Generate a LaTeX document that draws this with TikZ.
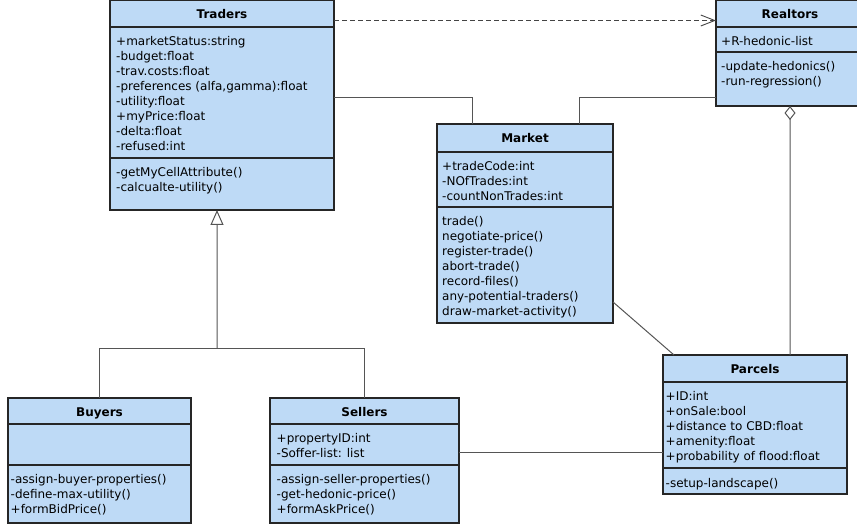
\documentclass[tikz,border=0pt]{standalone}
\usepackage{fontspec}
\setmainfont{DejaVu Sans}
\usetikzlibrary{arrows.meta}
\definecolor{umlblue}{RGB}{190,218,246}
\definecolor{conncol}{RGB}{85,85,85}
\begin{document}
\begin{tikzpicture}[x=1bp,y=-1bp,
  comp/.style={draw=black!85, line width=1.1bp, fill=umlblue, anchor=north west, inner sep=0pt, outer sep=0pt},
  ttl/.style={anchor=base, inner sep=0pt, font=\fontsize{12bp}{15bp}\selectfont\bfseries},
  txt/.style={anchor=north west, align=left, inner sep=0pt, font=\fontsize{12bp}{15bp}\selectfont},
  conn/.style={draw=conncol, line width=1bp},
  dep/.style={draw=conncol!80!black, line width=0.9bp, dash pattern=on 5bp off 3bp, -{Straight Barb[length=14bp,width=11bp]}},
  inh/.style={conn, -{Triangle[open, length=15bp, width=13bp]}},
  agg/.style={conn, -{Diamond[open, length=14bp, width=11bp]}},
]
\useasboundingbox (0,0) rectangle (857,528);

% ---------- Traders ----------
\node[comp, minimum width=224bp, minimum height=27bp] (trT) at (110,0) {};
\node[comp, minimum width=224bp, minimum height=131bp] (trA) at (110,27) {};
\node[comp, minimum width=224bp, minimum height=52bp] (trM) at (110,158) {};
\node[ttl] (trTt) at ([yshift=-18.5bp]trT.north) {Traders};
\node[txt] (trAt) at ([xshift=6bp,yshift=-8bp]trA.north west) {\strut+marketStatus:string\\-budget:float\\-trav.costs:float\\-preferences (alfa,gamma):float\\-utility:float\\+myPrice:float\\-delta:float\\-refused:int};
\node[txt] (trMt) at ([xshift=6bp,yshift=-8bp]trM.north west) {\strut-getMyCellAttribute()\\-calcualte-utility()};

% ---------- Realtors ----------
\node[comp, minimum width=148bp, minimum height=27bp] (reT) at (716,0) {};
\node[comp, minimum width=148bp, minimum height=25bp] (reA) at (716,27) {};
\node[comp, minimum width=148bp, minimum height=54bp] (reM) at (716,52) {};
\node[ttl] (reTt) at ([yshift=-18.5bp]reT.north) {Realtors};
\node[txt] (reAt) at ([xshift=5bp,yshift=-7.5bp]reA.north west) {\strut+R-hedonic-list};
\node[txt] (reMt) at ([xshift=5bp,yshift=-8bp]reM.north west) {\strut-update-hedonics()\\-run-regression()};

% ---------- Market ----------
\node[comp, minimum width=176bp, minimum height=28bp] (maT) at (437,124) {};
\node[comp, minimum width=176bp, minimum height=55bp] (maA) at (437,152) {};
\node[comp, minimum width=176bp, minimum height=116bp] (maM) at (437,207) {};
\node[ttl] (maTt) at ([yshift=-19bp]maT.north) {Market};
\node[txt] (maAt) at ([xshift=5bp,yshift=-7.5bp]maA.north west) {\strut+tradeCode:int\\-NOfTrades:int\\-countNonTrades:int};
\node[txt] (maMt) at ([xshift=5bp,yshift=-8bp]maM.north west) {\strut trade()\\negotiate-price()\\register-trade()\\abort-trade()\\record-files()\\any-potential-traders()\\draw-market-activity()};

% ---------- Buyers ----------
\node[comp, minimum width=183bp, minimum height=26bp] (buT) at (8,398) {};
\node[comp, minimum width=183bp, minimum height=41bp] (buA) at (8,424) {};
\node[comp, minimum width=183bp, minimum height=58bp] (buM) at (8,465) {};
\node[ttl] (buTt) at ([yshift=-18bp]buT.north) {Buyers};
\node[txt] (buMt) at ([xshift=2.5bp,yshift=-8bp]buM.north west) {\strut-assign-buyer-properties()\\-define-max-utility()\\+formBidPrice()};

% ---------- Sellers ----------
\node[comp, minimum width=189bp, minimum height=26bp] (seT) at (270,398) {};
\node[comp, minimum width=189bp, minimum height=41bp] (seA) at (270,424) {};
\node[comp, minimum width=189bp, minimum height=58bp] (seM) at (270,465) {};
\node[ttl] (seTt) at ([yshift=-18bp]seT.north) {Sellers};
\node[txt] (seAt) at ([xshift=6.5bp,yshift=-7.5bp]seA.north west) {\strut+propertyID:int\\-Soffer-list: list};
\node[txt] (seMt) at ([xshift=6.5bp,yshift=-8bp]seM.north west) {\strut-assign-seller-properties()\\-get-hedonic-price()\\+formAskPrice()};

% ---------- Parcels ----------
\node[comp, minimum width=184bp, minimum height=27bp] (paT) at (663,355) {};
\node[comp, minimum width=184bp, minimum height=86bp] (paA) at (663,382) {};
\node[comp, minimum width=184bp, minimum height=26bp] (paM) at (663,468) {};
\node[ttl] (paTt) at ([yshift=-18.5bp]paT.north) {Parcels};
\node[txt] (paAt) at ([xshift=2.5bp,yshift=-7.5bp]paA.north west) {\strut+ID:int\\+onSale:bool\\+distance to CBD:float\\+amenity:float\\+probability of flood:float};
\node[txt] (paMt) at ([xshift=2.5bp,yshift=-8.5bp]paM.north west) {\strut-setup-landscape()};

% ---------- connectors ----------
\draw[dep] ([yshift=-7bp]trT.east) -- ([yshift=-7bp]reT.west);
\draw[conn] ([yshift=-5.5bp]trA.east) -| ([xshift=-53bp]maT.north);
\draw[conn] ([yshift=-19bp]reM.west) -| ([xshift=54bp]maT.north);
\draw[agg] ([xshift=35bp]paT.north) -- (reM.south);
\draw[conn] ([yshift=-37bp]maM.east) -- ([xshift=-81bp]paT.north);
\draw[conn] ([yshift=-7.5bp]seA.east) -- ([yshift=-7.5bp]seA.east -| paA.west);
\coordinate (jn) at (217,348.5);
\draw[conn] (buT.north) |- (jn) -| (seT.north);
\draw[inh] (jn) -- ([xshift=-5bp]trM.south);
\end{tikzpicture}
\end{document}
